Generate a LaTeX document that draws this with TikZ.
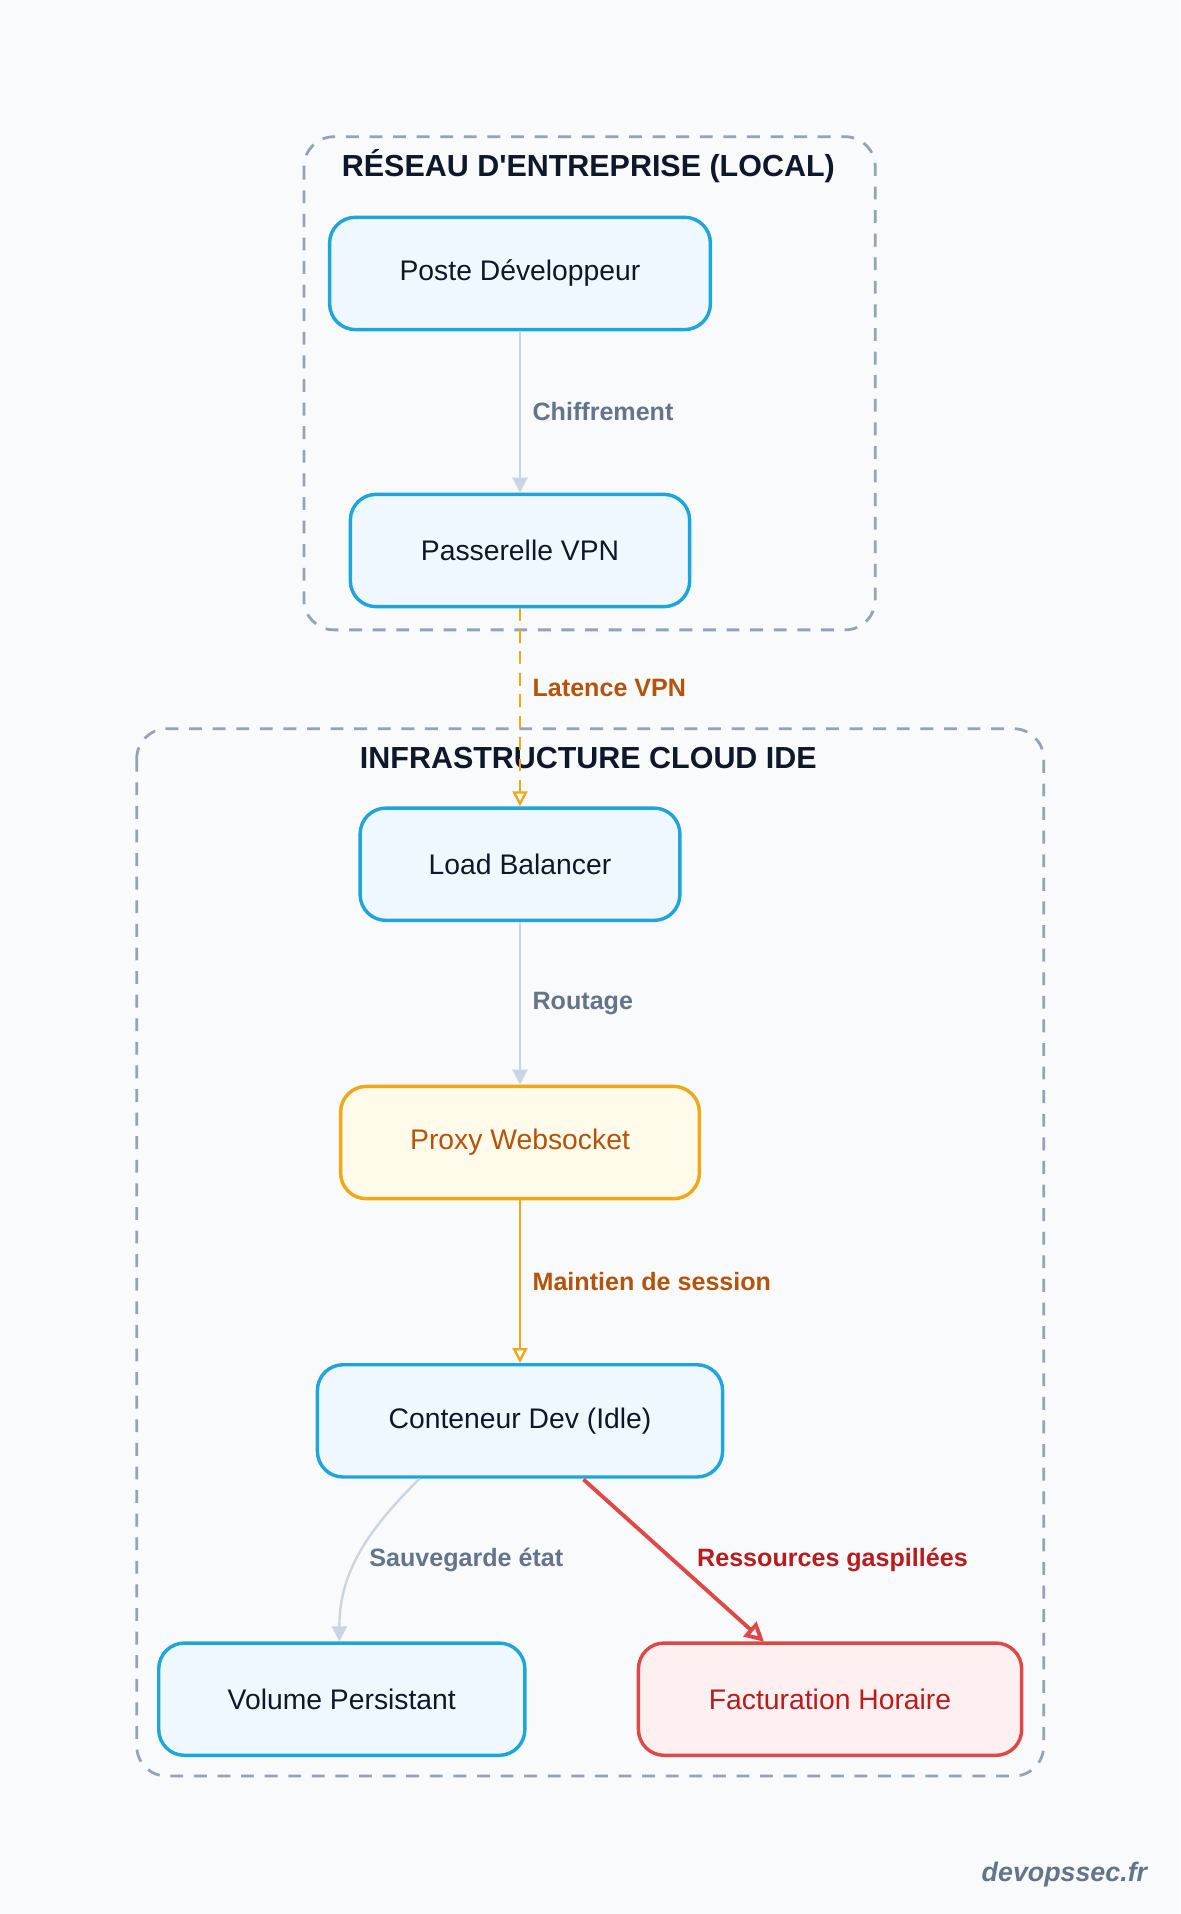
\documentclass[tikz,border=0pt]{standalone}
\usepackage{fontspec}
\setmainfont{Liberation Sans}
\usetikzlibrary{arrows.meta,positioning}
\definecolor{bgc}{HTML}{F8FAFC}
\definecolor{boxblue}{HTML}{1EA5DC}
\definecolor{fillblue}{HTML}{F0F8FF}
\definecolor{boxorange}{HTML}{F0A818}
\definecolor{fillorange}{HTML}{FFFBEA}
\definecolor{txtorange}{HTML}{B45309}
\definecolor{boxred}{HTML}{E04848}
\definecolor{fillred}{HTML}{FEF0F0}
\definecolor{txtred}{HTML}{B91C1C}
\definecolor{edgegray}{HTML}{CBD5E1}
\definecolor{lblgray}{HTML}{64748B}
\definecolor{grpgray}{HTML}{94A3B8}
\definecolor{titlec}{HTML}{0F172A}
\tikzset{
  box/.style={draw=boxblue, fill=fillblue, line width=1.6pt, rounded corners=12pt,
    minimum height=1.84cm, font=\fontsize{13.2}{15}\selectfont, text=titlec},
  warnbox/.style={box, draw=boxorange, fill=fillorange, text=txtorange},
  costbox/.style={box, draw=boxred, fill=fillred, text=txtred},
  group/.style={draw=grpgray, dash pattern=on 6pt off 5pt, line width=1.3pt, rounded corners=14pt},
  grptitle/.style={font=\bfseries\fontsize{14.2}{16}\selectfont, text=titlec},
  flow/.style={draw=edgegray, line width=1.1pt, -{Triangle[length=7pt,width=7pt]}},
  slow/.style={draw=boxorange, line width=1.1pt, -{Triangle[open,length=7pt,width=7pt]}},
  waste/.style={draw=boxred, line width=1.8pt, -{Triangle[open,length=9pt,width=9pt]}},
  lbl/.style={font=\bfseries\fontsize{11.7}{13}\selectfont, text=lblgray},
}
\begin{document}
\begin{tikzpicture}[x=0.02cm, y=-0.02cm]
\fill[bgc] (0,0) rectangle (967,1568);
\useasboundingbox (0,0) rectangle (967,1568);

% groups
\draw[group] (249,112) rectangle (717,516);
\node[grptitle] (tlocal) at (482,136) {RÉSEAU D\textquotesingle ENTREPRISE (LOCAL)};
\draw[group] (112,597) rectangle (855,1455);
\node[grptitle] (tcloud) at (482,621) {INFRASTRUCTURE CLOUD IDE};

% nodes
\node[box, minimum width=6.24cm] (poste) at (426,224) {Poste Développeur};
\node[box, minimum width=5.56cm] (vpn) at (426,451) {Passerelle VPN};
\node[box, minimum width=5.24cm] (lb) at (426,708) {Load Balancer};
\node[warnbox, minimum width=5.88cm] (proxy) at (426,936) {Proxy Websocket};
\node[box, minimum width=6.64cm] (dev) at (426,1164) {Conteneur Dev (Idle)};
\node[box, minimum width=6cm] (vol) at (280,1392) {Volume Persistant};
\node[costbox, minimum width=6.28cm] (bill) at (680,1392) {Facturation Horaire};

% edges
\draw[flow] (poste) -- node[lbl, right=2pt] {Chiffrement} (vpn);
\draw[slow, dash pattern=on 6pt off 4pt] (vpn) -- node[lbl, text=txtorange, right=2pt, pos=0.4] {Latence VPN} (lb);
\draw[flow] (lb) -- node[lbl, right=2pt] {Routage} (proxy);
\draw[slow] (proxy) -- node[lbl, text=txtorange, right=2pt] {Maintien de session} (dev);
\draw[flow] (dev.south west) ++(85,0) coordinate (dl)
  (dl) to[out=-135, in=90] (vol.north -| 278,0);
\node[lbl] (lsave) at (382,1278) {Sauvegarde état};
\coordinate (dr) at (478,1212);
\coordinate (br) at (626,1345);
\draw[waste] (dr) -- (br);
\node[lbl, text=txtred] (lwaste) at (682,1278) {Ressources gaspillées};

% watermark
\node[font=\itshape\bfseries\fontsize{12.5}{14}\selectfont, text=lblgray] (wm) at (872,1536) {devopssec.fr};
\end{tikzpicture}
\end{document}
